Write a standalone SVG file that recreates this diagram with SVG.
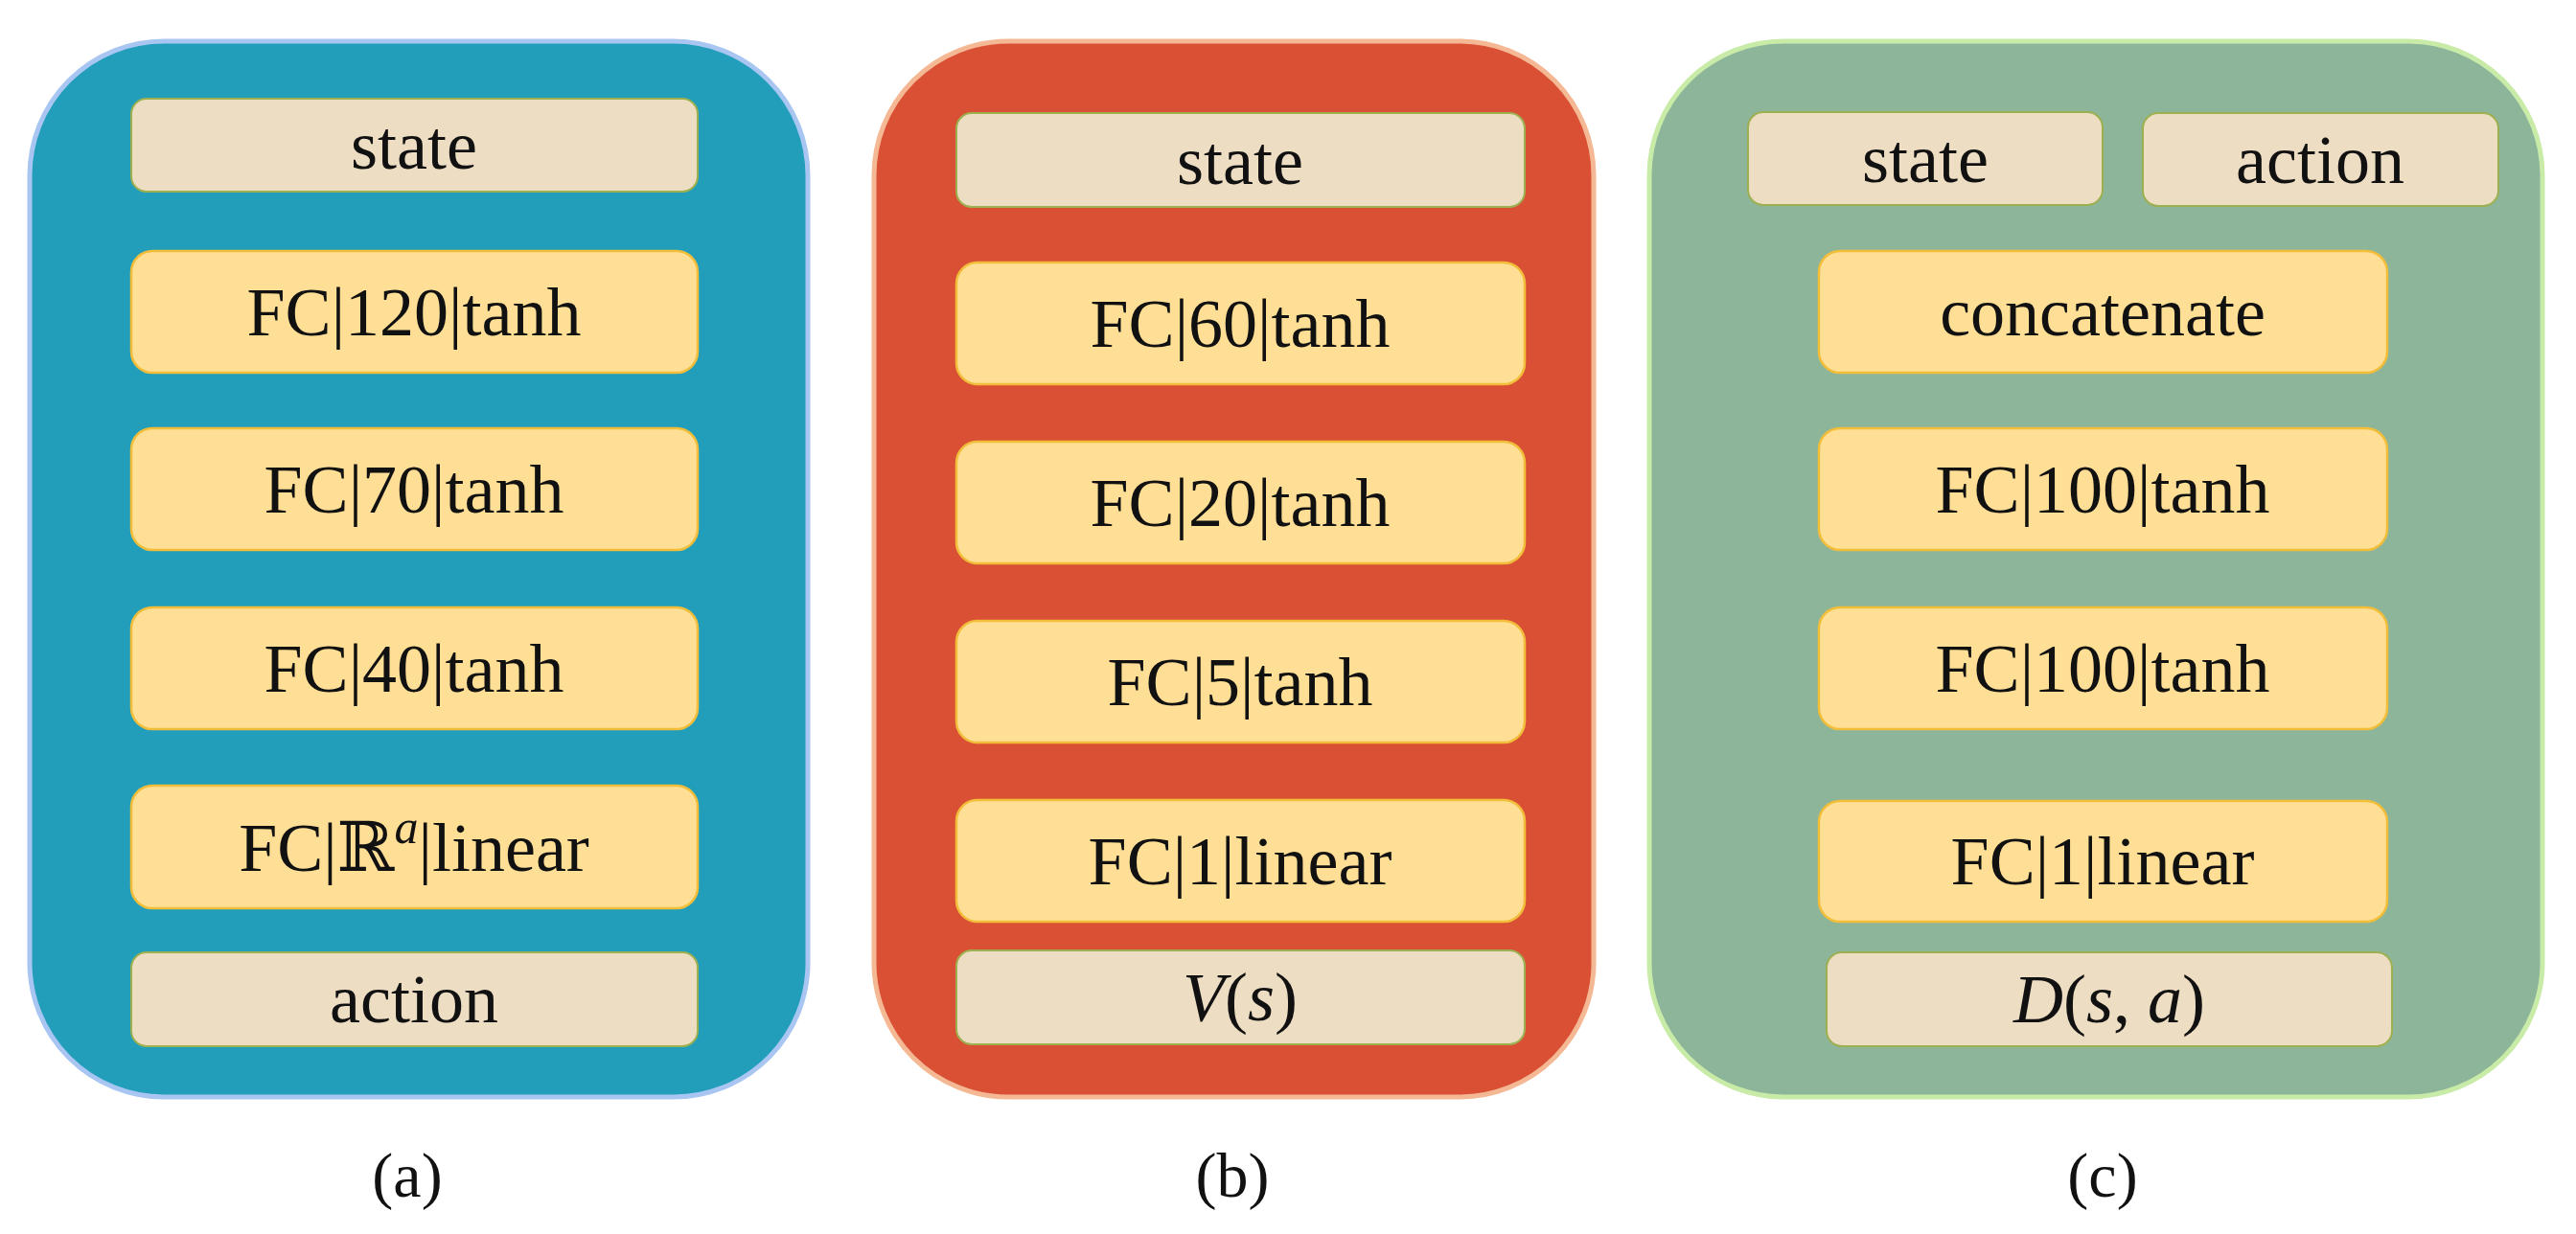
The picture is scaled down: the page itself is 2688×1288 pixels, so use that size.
<svg xmlns="http://www.w3.org/2000/svg" width="2688" height="1288" viewBox="0 0 2688 1288">
<style>
text{font-family:"Liberation Serif","DejaVu Serif",serif;font-size:72px;fill:#111;text-anchor:middle;dominant-baseline:central}
.i{font-style:italic}
.y{fill:#FFDF95;stroke:#F2BE3A;stroke-width:2.5}
.b{fill:#EDDDC3;stroke:#9DB050;stroke-width:2}
.cap{font-size:66px}
</style>
<rect width="2688" height="1288" fill="#fff"/>
<g id="panelA">
<rect x="31" y="43" width="812" height="1102" rx="140" fill="#229EBB" stroke="#A9C6F2" stroke-width="5"/>
<g id="a_state"><rect class="b" x="137" y="103" width="591" height="97" rx="16"/><text x="432" y="152">state</text></g>
<g id="a_fc120"><rect class="y" x="137" y="262" width="591" height="127" rx="22"/><text x="432" y="326">FC|120|tanh</text></g>
<g id="a_fc70"><rect class="y" x="137" y="447" width="591" height="127" rx="22"/><text x="432" y="511">FC|70|tanh</text></g>
<g id="a_fc40"><rect class="y" x="137" y="634" width="591" height="127" rx="22"/><text x="432" y="698">FC|40|tanh</text></g>
<g id="a_fcR"><rect class="y" x="137" y="820" width="591" height="128" rx="22"/><text x="432" y="885">FC|ℝ<tspan class="i" dy="-22" font-size="50">a</tspan><tspan dy="22">|linear</tspan></text></g>
<g id="a_action"><rect class="b" x="137" y="994" width="591" height="98" rx="16"/><text x="432" y="1043">action</text></g>
<text class="cap" x="425" y="1226">(a)</text>
</g>
<g id="panelB">
<rect x="912" y="43" width="751" height="1102" rx="140" fill="#D95035" stroke="#F5B894" stroke-width="5"/>
<g id="b_state"><rect class="b" x="998" y="118" width="593" height="98" rx="16"/><text x="1294" y="168">state</text></g>
<g id="b_fc60"><rect class="y" x="998" y="274" width="593" height="127" rx="22"/><text x="1294" y="338">FC|60|tanh</text></g>
<g id="b_fc20"><rect class="y" x="998" y="461" width="593" height="127" rx="22"/><text x="1294" y="525">FC|20|tanh</text></g>
<g id="b_fc5"><rect class="y" x="998" y="648" width="593" height="127" rx="22"/><text x="1294" y="712">FC|5|tanh</text></g>
<g id="b_fc1"><rect class="y" x="998" y="835" width="593" height="127" rx="22"/><text x="1294" y="899">FC|1|linear</text></g>
<g id="b_v"><rect class="b" x="998" y="992" width="593" height="98" rx="16"/><text x="1294" y="1041"><tspan class="i">V</tspan>(<tspan class="i">s</tspan>)</text></g>
<text class="cap" x="1286" y="1226">(b)</text>
</g>
<g id="panelC">
<rect x="1721" y="43" width="932" height="1102" rx="140" fill="#8DB59A" stroke="#C9EBA8" stroke-width="5"/>
<g id="c_state"><rect class="b" x="1824" y="117" width="370" height="97" rx="16"/><text x="2009" y="166">state</text></g>
<g id="c_action"><rect class="b" x="2236" y="118" width="371" height="97" rx="16"/><text x="2421" y="167">action</text></g>
<g id="c_concat"><rect class="y" x="1898" y="262" width="593" height="127" rx="22"/><text x="2194" y="326">concatenate</text></g>
<g id="c_fc100a"><rect class="y" x="1898" y="447" width="593" height="127" rx="22"/><text x="2194" y="511">FC|100|tanh</text></g>
<g id="c_fc100b"><rect class="y" x="1898" y="634" width="593" height="127" rx="22"/><text x="2194" y="698">FC|100|tanh</text></g>
<g id="c_fc1"><rect class="y" x="1898" y="836" width="593" height="126" rx="22"/><text x="2194" y="899">FC|1|linear</text></g>
<g id="c_d"><rect class="b" x="1906" y="994" width="590" height="98" rx="16"/><text x="2201" y="1043"><tspan class="i">D</tspan>(<tspan class="i">s</tspan>, <tspan class="i">a</tspan>)</text></g>
<text class="cap" x="2194" y="1226">(c)</text>
</g>
<g id="connectors"/>
</svg>
